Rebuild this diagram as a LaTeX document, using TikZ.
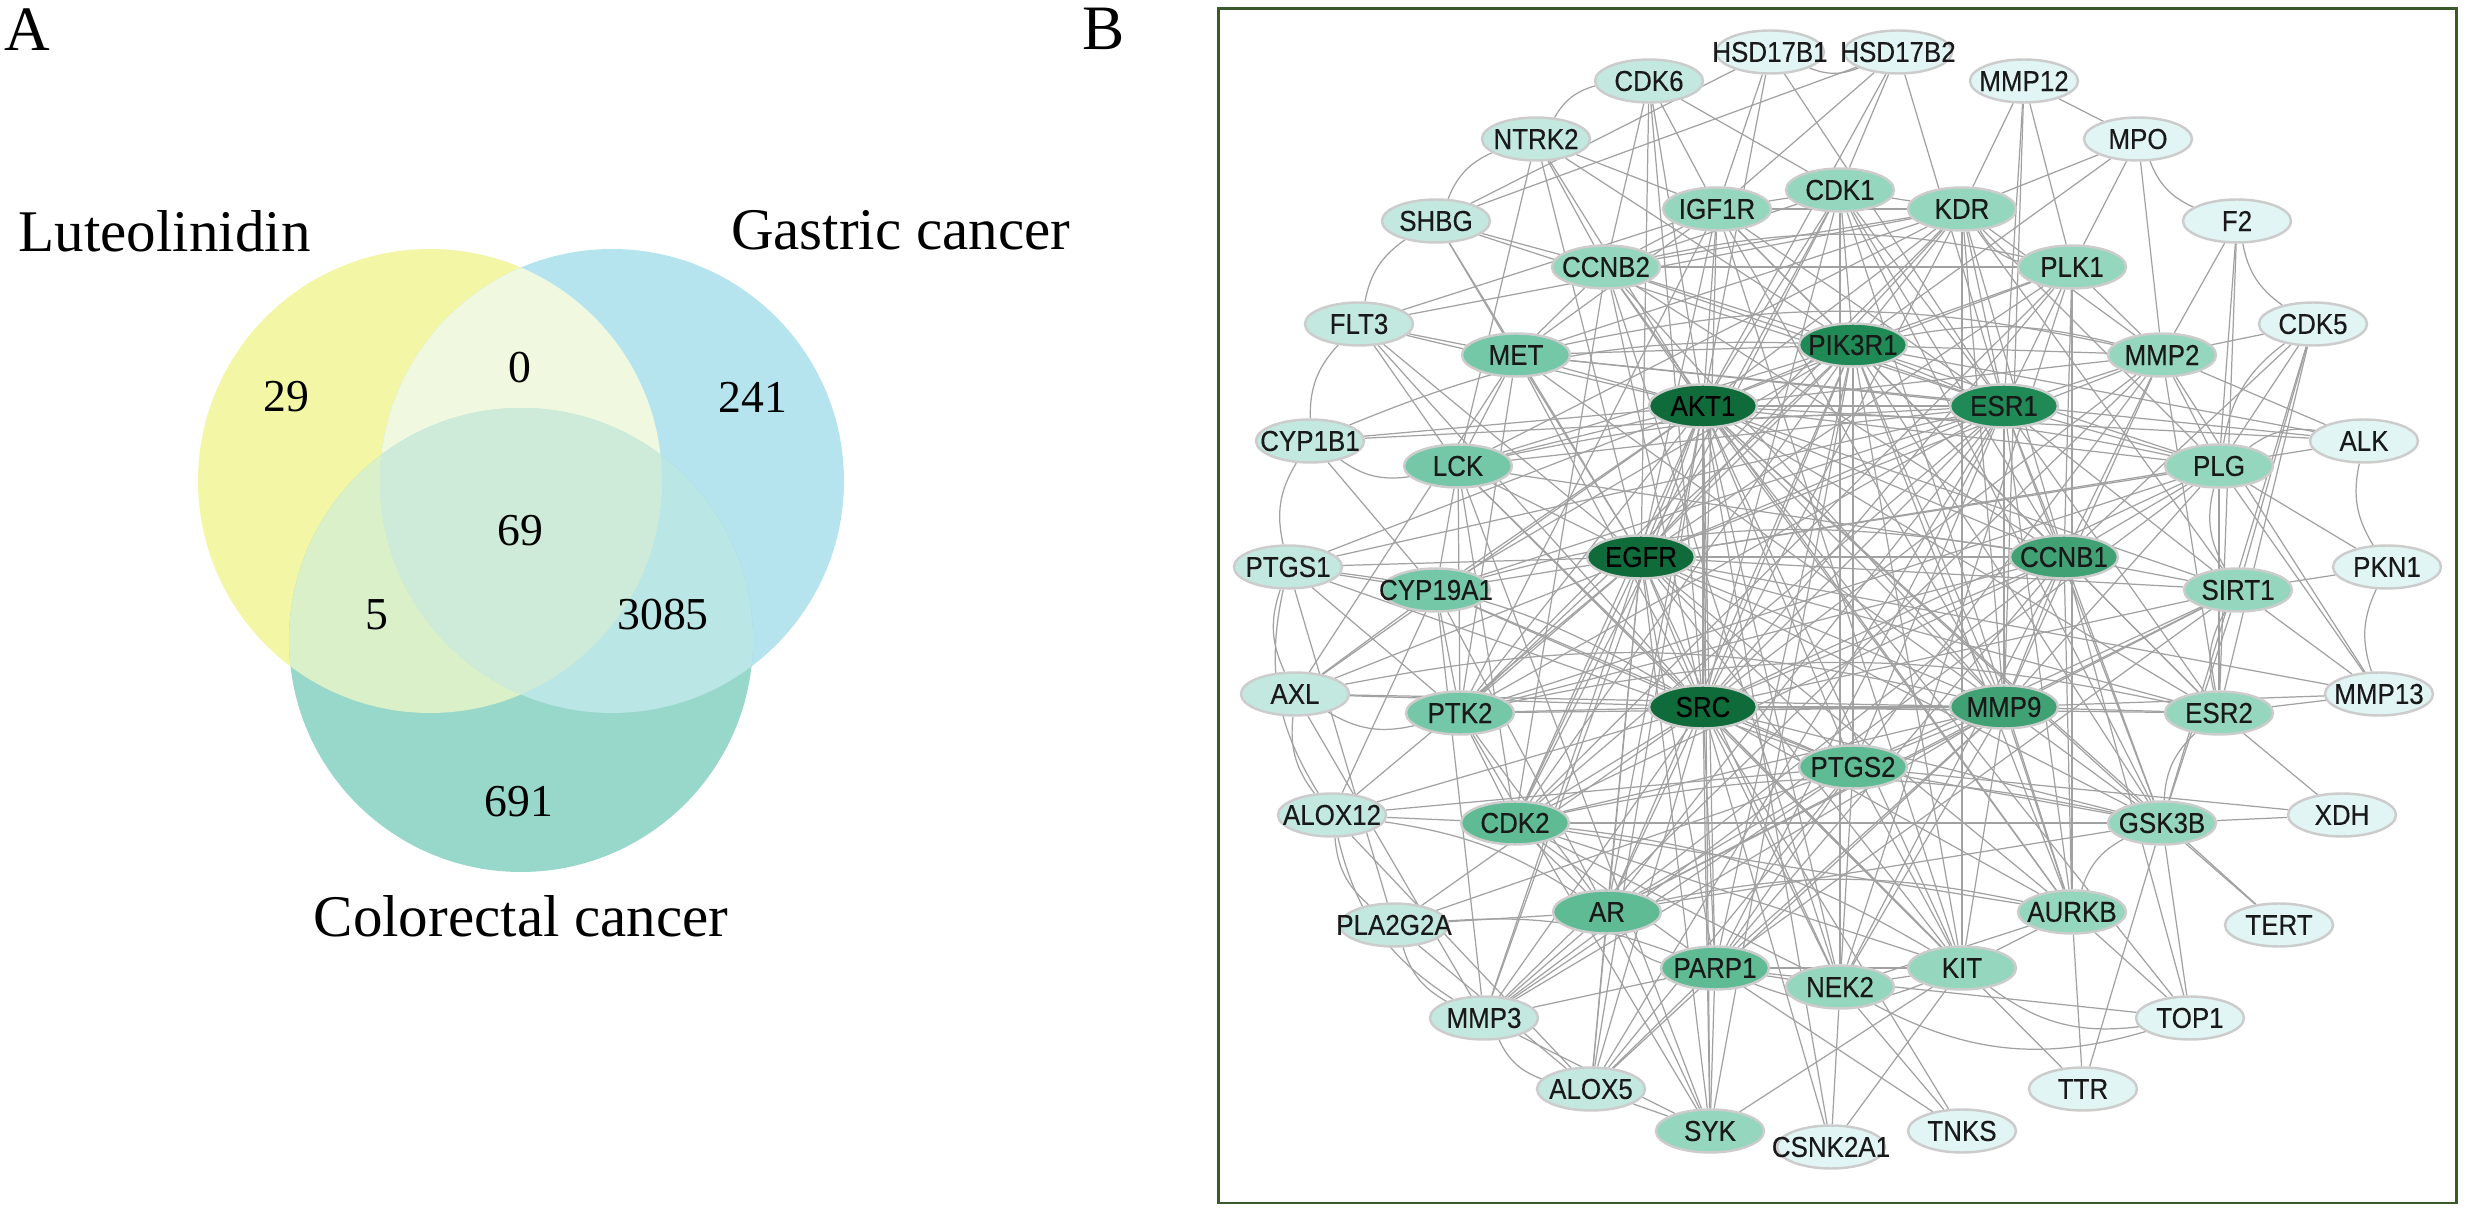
\documentclass[tikz,border=0pt]{standalone}
\usepackage{fontspec}
\setmainfont{Liberation Serif}
\newfontfamily\genefont[FakeStretch=0.9, FakeBold=0.3]{Liberation Sans}
\usetikzlibrary{shapes.geometric,backgrounds}

% venn colours
\definecolor{vennY}{HTML}{F3F7A5}
\definecolor{vennB}{HTML}{B5E4EF}
\definecolor{vennG}{HTML}{98D8CB}
\definecolor{vennYB}{HTML}{F0F8E0}
\definecolor{vennYG}{HTML}{D9F0C8}
\definecolor{vennBG}{HTML}{BAE6E6}
\definecolor{vennYBG}{HTML}{CDEBD8}
% degree colours
\definecolor{degA}{HTML}{0F6B39}
\definecolor{degB}{HTML}{1F8A55}
\definecolor{degC}{HTML}{3FA174}
\definecolor{degD}{HTML}{5EBB93}
\definecolor{degE}{HTML}{74C7A7}
\definecolor{degF}{HTML}{95D6BE}
\definecolor{degG}{HTML}{C3E8DF}
\definecolor{degH}{HTML}{E1F5F4}
\definecolor{frameG}{HTML}{3B5A2B}

\tikzset{
  gene/.style={ellipse, draw=black!20, line width=0.7pt, minimum width=10.8mm,
    minimum height=4.3mm, inner sep=0pt, text=black!90,
    font=\genefont\fontsize{8.2}{9}\selectfont},
  edge/.style={draw=black!37, line width=0.35pt},
  setlabel/.style={inner sep=0pt, font=\fontsize{16.8}{20}\selectfont},
  count/.style={inner sep=0pt, font=\fontsize{13}{15}\selectfont},
  panel/.style={inner sep=0pt, font=\fontsize{18}{21}\selectfont},
  netframe/.style={draw=frameG, line width=0.85pt}
}

\begin{document}
\begin{tikzpicture}[x=0.1mm,y=-0.1mm]
    \useasboundingbox (0,0) rectangle (2470,1209);

    % A: venn
    \coordinate (cY) at (430,481);
    \coordinate (cB) at (612,481);
    \coordinate (cG) at (521,640);
    \fill[vennY] (cY) circle [radius=23.2mm];
    \fill[vennB] (cB) circle [radius=23.2mm];
    \fill[vennG] (cG) circle [radius=23.2mm];
    \begin{scope}
        \clip (cY) circle [radius=23.2mm];
        \fill[vennYB] (cB) circle [radius=23.2mm];
        \fill[vennYG] (cG) circle [radius=23.2mm];
    \end{scope}
    \begin{scope}
        \clip (cB) circle [radius=23.2mm];
        \fill[vennBG] (cG) circle [radius=23.2mm];
        \clip (cY) circle [radius=23.2mm];
        \fill[vennYBG] (cG) circle [radius=23.2mm];
    \end{scope}
    \node[panel, anchor=base west] (pA) at (4,51) {A};
    \node[setlabel, anchor=base west] (lut) at (18,252) {Luteolinidin};
    \node[setlabel, anchor=base east] (gas) at (1071,250) {Gastric cancer};
    \node[setlabel, anchor=base] (col) at (521,937) {Colorectal cancer};
    \node[count] (nY) at (286,397) {29};
    \node[count] (nYB) at (520,368) {0};
    \node[count] (nB) at (753,397) {241};
    \node[count] (nYBG) at (520,531) {69};
    \node[count] (nYG) at (377,615) {5};
    \node[count] (nBG) at (663,615) {3085};
    \node[count] (nG) at (519,802) {691};

    % B: network
    \node[panel, anchor=base west] (pB) at (1082,50) {B};
    \draw[netframe] (1218,9) rectangle (2456,1203);

    \foreach \g/\x/\y in {AKT1/1703/406, EGFR/1641/557, SRC/1703/707}
        \node[gene, fill=degA, text=black] (\g) at (\x,\y) {\makebox[0pt]{\g}};
    \foreach \g/\x/\y in {PIK3R1/1853/345, ESR1/2004/406}
        \node[gene, fill=degB] (\g) at (\x,\y) {\makebox[0pt]{\g}};
    \foreach \g/\x/\y in {CCNB1/2064/557, MMP9/2004/707}
        \node[gene, fill=degC] (\g) at (\x,\y) {\makebox[0pt]{\g}};
    \foreach \g/\x/\y in {PARP1/1715/968, AR/1607/912, CDK2/1515/823, PTGS2/1853/767}
        \node[gene, fill=degD] (\g) at (\x,\y) {\makebox[0pt]{\g}};
    \foreach \g/\x/\y in {PTK2/1460/713, LCK/1458/466, MET/1516/355, CYP19A1/1436/590}
        \node[gene, fill=degE] (\g) at (\x,\y) {\makebox[0pt]{\g}};
    \foreach \g/\x/\y in {CCNB2/1606/267, IGF1R/1717/209, CDK1/1840/190, KDR/1962/209,
        PLK1/2072/267, MMP2/2162/355, PLG/2219/466, SIRT1/2238/590, ESR2/2219/713,
        GSK3B/2162/823, AURKB/2072/912, KIT/1962/968, NEK2/1840/987, SYK/1710/1131}
        \node[gene, fill=degF] (\g) at (\x,\y) {\makebox[0pt]{\g}};
    \foreach \g/\x/\y in {ALOX5/1591/1089, MMP3/1484/1018, PLA2G2A/1394/925,
        ALOX12/1332/815, AXL/1295/694, PTGS1/1288/567, CYP1B1/1310/441,
        FLT3/1359/324, SHBG/1436/221, NTRK2/1536/139, CDK6/1649/81}
        \node[gene, fill=degG] (\g) at (\x,\y) {\makebox[0pt]{\g}};
    \foreach \g/\x/\y in {HSD17B1/1770/52, HSD17B2/1898/52, MMP12/2024/81,
        MPO/2138/139, F2/2237/221, CDK5/2313/324, ALK/2364/441, PKN1/2387/567,
        MMP13/2379/694, XDH/2342/815, TERT/2279/925, TOP1/2190/1018,
        TTR/2083/1089, TNKS/1962/1131, CSNK2A1/1831/1147}
        \node[gene, fill=degH] (\g) at (\x,\y) {\makebox[0pt]{\g}};

    % interactions
    \begin{pgfonlayer}{background}
    \foreach \a/\bs in {
        AKT1/{EGFR,SRC,PIK3R1,ESR1,CCNB1,MMP9,PARP1,AR,CDK2,PTK2,LCK,MET,CYP19A1,PTGS2,
              CCNB2,IGF1R,CDK1,KDR,PLK1,MMP2,PLG,SIRT1,ESR2,GSK3B,AURKB,KIT,NEK2,SYK,
              ALOX5,MMP3,PTGS1,CYP1B1,FLT3,NTRK2,CDK6,HSD17B1,HSD17B2,TERT,TOP1,CSNK2A1,ALK,AXL},
        EGFR/{SRC,PIK3R1,ESR1,CCNB1,MMP9,PARP1,AR,CDK2,PTK2,LCK,MET,CYP19A1,PTGS2,IGF1R,
              CDK1,KDR,PLK1,MMP2,PLG,SIRT1,ESR2,GSK3B,AURKB,KIT,NEK2,SYK,ALOX5,MMP3,PTGS1,
              FLT3,NTRK2,ALOX12,AXL,ALK,CDK6,SHBG,MMP13},
        SRC/{PIK3R1,ESR1,CCNB1,MMP9,PARP1,AR,CDK2,PTK2,LCK,MET,CYP19A1,PTGS2,CCNB2,IGF1R,
             CDK1,KDR,PLK1,MMP2,PLG,SIRT1,ESR2,GSK3B,AURKB,KIT,NEK2,SYK,ALOX5,MMP3,AXL,
             ALOX12,PLA2G2A,CSNK2A1,TNKS,TTR,FLT3,CDK6},
        PIK3R1/{ESR1,CCNB1,MMP9,PARP1,AR,CDK2,PTK2,LCK,MET,IGF1R,CDK1,KDR,PLK1,MMP2,PLG,
                ESR2,GSK3B,AURKB,KIT,SYK,CYP19A1,PTGS2,MPO,ALK,CCNB2,NTRK2},
        ESR1/{CCNB1,MMP9,PARP1,AR,CDK2,PTK2,LCK,MET,CYP19A1,PTGS2,CCNB2,IGF1R,CDK1,KDR,
              PLK1,MMP2,PLG,SIRT1,ESR2,GSK3B,AURKB,HSD17B1,HSD17B2,SHBG,CYP1B1,PTGS1,ALOX5,MMP12},
        CCNB1/{MMP9,CDK2,CDK1,PLK1,AURKB,CCNB2,GSK3B,NEK2,PARP1,KDR,SIRT1,ESR2,PLG,MMP2,
               CDK5,AR,PTK2,LCK,TOP1,IGF1R},
        MMP9/{PARP1,AR,CDK2,PTK2,PTGS2,MMP2,MMP3,PLG,ESR2,GSK3B,KIT,SIRT1,MMP12,MMP13,KDR,
              MET,IGF1R,CCNB2,ALOX5,AXL,AURKB,NEK2},
        PARP1/{SYK,NEK2,KIT,CDK2,TNKS,TOP1,SIRT1,ALOX5,MMP3,PTGS2},
        AR/{CDK2,PTK2,CYP19A1,PTGS2,GSK3B,MMP3,ALOX5,PLA2G2A,SYK,SIRT1},
        CDK2/{PTK2,CCNB2,CDK1,PLK1,AURKB,GSK3B,NEK2,ALOX12,KIT,LCK},
        PTK2/{LCK,MET,KDR,IGF1R,PTGS1,CYP19A1,SYK,PLG},
        LCK/{MET,CYP19A1,SYK,KIT,FLT3,NTRK2,KDR},
        MET/{IGF1R,KDR,FLT3,AXL,ALK,SHBG,CCNB2},
        CYP19A1/{PTGS1,CYP1B1,PTGS2,ALOX12,AXL,MMP3},
        PTGS2/{PTGS1,ALOX5,ALOX12,PLA2G2A,MMP3,MMP2,SIRT1,NEK2,GSK3B,KIT,XDH},
        CCNB2/{CDK1,PLK1,IGF1R,AURKB,NEK2,SHBG,NTRK2,CDK6,KDR},
        IGF1R/{CDK1,KDR,CDK6,NTRK2,HSD17B1,HSD17B2,FLT3,KIT},
        CDK1/{KDR,CDK6,HSD17B2,NEK2,AURKB,GSK3B},
        KDR/{MMP12,MPO,FLT3,KIT,PLG,MMP2,SIRT1},
        PLK1/{MMP12,MPO,AURKB,MMP2,NEK2},
        MMP2/{MPO,F2,CDK5,PLG,MMP13,MMP3,ALK,ESR2},
        PLG/{F2,CDK5,MMP13,PKN1,ESR2,MMP3},
        SIRT1/{PKN1,GSK3B,MMP13,CDK5},
        ESR2/{MMP13,XDH,CDK5,F2},
        GSK3B/{XDH,TERT,TTR,CDK5,TOP1},
        AURKB/{KIT,NEK2,TTR,TOP1},
        KIT/{NEK2,CSNK2A1,SYK},
        NEK2/{TNKS,CSNK2A1},
        SYK/{ALOX5,MMP3},
        ALOX5/{PLA2G2A,ALOX12},
        MMP3/{AXL},
        PLA2G2A/{PTGS1},
        HSD17B1/{SHBG},
        HSD17B2/{SHBG},
        MMP12/{MPO}}
        \foreach \b in \bs
            \draw[edge] (\a) -- (\b);
    \foreach \a/\b in {HSD17B1/HSD17B2, PTGS1/AXL, PTGS1/ALOX12, CYP1B1/PTGS1,
        CYP1B1/LCK, AXL/ALOX12, ALOX12/PLA2G2A, ALOX12/MMP3, PLA2G2A/MMP3,
        MMP3/ALOX5, FLT3/CYP1B1, SHBG/FLT3, KDR/PLK1, PLG/SIRT1, F2/CDK5,
        CDK5/PLG, ALK/PLG, PKN1/MMP13, SIRT1/ESR2, ESR2/GSK3B, GSK3B/AURKB,
        NEK2/TOP1, KIT/TOP1, PARP1/KIT, AR/PARP1, AXL/PTK2, ALK/PKN1,
        CDK6/NTRK2, NTRK2/SHBG, MPO/F2}
        \draw[edge] (\a) to[bend right=22] (\b);
    \foreach \a/\b in {PIK3R1/MMP2, CDK2/GSK3B, PTK2/ESR2, CYP19A1/CCNB1,
        MET/MMP2, PTGS1/SRC, AXL/MMP9, ALOX12/AR, CCNB2/PLK1, AR/AURKB,
        CYP1B1/PIK3R1, LCK/PLG, CDK2/KIT, PLA2G2A/PARP1}
        \draw[edge] (\a) to[bend left=12] (\b);
    \end{pgfonlayer}
\end{tikzpicture}
\end{document}
